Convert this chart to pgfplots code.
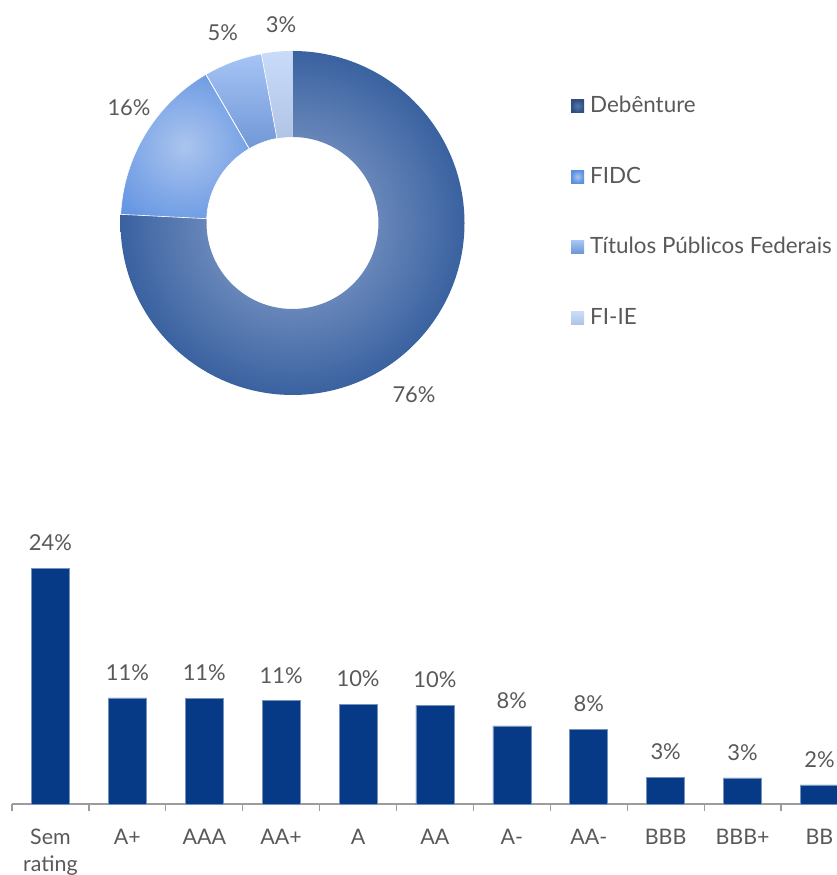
\documentclass[border=0pt]{standalone}
\usepackage{pgfplots}
\pgfplotsset{compat=1.18}
\usepackage{fontspec}
\setmainfont{Lato}
\definecolor{txt}{HTML}{595959}
\definecolor{axgrey}{HTML}{9C9C9C}
\definecolor{barblue}{RGB}{6,58,135}
\definecolor{debdark}{HTML}{3A62A0}
\definecolor{debcenter}{HTML}{94AAD3}
\definecolor{legdebc}{HTML}{5577AE}
\definecolor{fidcdark}{HTML}{5B8FE1}
\definecolor{fidclight}{HTML}{AAC4EE}
\definecolor{titlight}{HTML}{A9C7F7}
\definecolor{titdark}{HTML}{6E95D5}
\definecolor{fiielight}{HTML}{C9DCFA}
\definecolor{fiiedark}{HTML}{B0C3E5}
% slice path: #1 start (percent), #2 value (percent)
\newcommand\slicepath[2]{({90-3.6*(#1)}:172bp) arc[start angle={90-3.6*(#1)}, end angle={90-3.6*((#1)+(#2))}, radius=172bp] -- ({90-3.6*((#1)+(#2))}:86bp) arc[start angle={90-3.6*((#1)+(#2))}, end angle={90-3.6*(#1)}, radius=86bp] -- cycle}
\begin{document}
\begin{tikzpicture}
\useasboundingbox (0,0) rectangle (837bp,875bp);
% ---------------- donut ----------------
\begin{axis}[
  hide axis, x=1bp, y=1bp,
  xmin=-200, xmax=200, ymin=-200, ymax=200,
  anchor=center, at={(292.5bp,652bp)}, clip=false]
\addplot[draw=none] coordinates {(0,0)};
\begin{scope}[shift={(axis cs:0,0)}]
  % Debenture 75.8
  \begin{scope}
    \clip \slicepath{0}{75.8};
    \shade[inner color=debcenter, outer color=debdark] (0bp,0bp) circle (172bp);
  \end{scope}
  % FIDC 15.8
  \begin{scope}
    \clip \slicepath{75.8}{15.8};
    \shade[inner color=fidclight, outer color=fidcdark] (-107.6bp,76.5bp) circle (100bp);
  \end{scope}
  % Titulos Publicos Federais 5.5
  \begin{scope}
    \clip \slicepath{91.6}{5.5};
    \shade[top color=titlight, bottom color=titdark] (-95bp,70bp) rectangle (-10bp,175bp);
  \end{scope}
  % FI-IE 2.9
  \begin{scope}
    \clip \slicepath{97.1}{2.9};
    \shade[top color=fiielight, bottom color=fiiedark] (-40bp,80bp) rectangle (2bp,175bp);
  \end{scope}
  \draw[white, line width=0.6bp] \slicepath{75.8}{15.8};
  \draw[white, line width=0.6bp] \slicepath{91.6}{5.5};
  \begin{scope}[font=\fontsize{22}{26}\selectfont, text=txt]
    \node at (-11.5bp,198bp) {3\%};
    \node at (-69.8bp,190bp) {5\%};
    \node at (-163.5bp,115bp) {16\%};
    \node at (121.5bp,-172bp) {76\%};
  \end{scope}
\end{scope}
\end{axis}
% ---------------- legend ----------------
\begin{scope}[font=\fontsize{22.5}{26}\selectfont, text=txt]
  \shade[inner color=legdebc, outer color=debdark!80!black] (571bp,762.5bp) rectangle (584bp,775.5bp);
  \node[anchor=base west, inner sep=0pt] at (590bp,762bp) {Debênture};
  \shade[inner color=fidclight, outer color=fidcdark] (571bp,691.8bp) rectangle (584bp,704.8bp);
  \node[anchor=base west, inner sep=0pt] at (590bp,691.3bp) {FIDC};
  \shade[top color=titlight, bottom color=titdark] (571bp,621.8bp) rectangle (584bp,634.8bp);
  \node[anchor=base west, inner sep=0pt] at (590bp,621.3bp) {Títulos Públicos Federais};
  \shade[top color=fiielight, bottom color=fiiedark] (571bp,550.5bp) rectangle (584bp,563.5bp);
  \node[anchor=base west, inner sep=0pt] at (590bp,550bp) {FI-IE};
\end{scope}
% ---------------- bars ----------------
\begin{axis}[
  at={(12bp,71bp)}, anchor=south west,
  x=76.9bp, y=9.83bp,
  xmin=-0.5, xmax=10.5, ymin=0, ymax=26,
  axis y line=none, axis x line*=bottom,
  x axis line style={draw=axgrey, line width=1.2bp},
  ybar, bar width=38bp, clip=false,
  xtick={0,...,10},
  xticklabels={{Sem\\rating},A+,AAA,AA+,A,AA,A-,AA-,BBB,BBB+,BB},
  major tick length=0pt,
  minor xtick={-0.5,0.5,...,10.5},
  minor tick length=7.5bp, tick align=outside,
  minor tick style={draw=axgrey, line width=1.2bp},
  xticklabel style={font=\fontsize{21.5}{27}\selectfont, text=txt, align=center, inner sep=0pt, yshift=-25bp, anchor=north},
  nodes near coords, point meta=explicit symbolic,
  nodes near coords style={font=\fontsize{22}{24}\selectfont, text=txt, inner sep=0pt, yshift=17bp, anchor=south},
]
\addplot[fill=barblue, draw=barblue!55!white, line width=0.6bp] coordinates {
  (0,24.0) [24\%]
  (1,10.8) [11\%]
  (2,10.75) [11\%]
  (3,10.5) [11\%]
  (4,10.15) [10\%]
  (5,10.05) [10\%]
  (6,7.95) [8\%]
  (7,7.6) [8\%]
  (8,2.7) [3\%]
  (9,2.65) [3\%]
  (10,1.95) [2\%]
};
\end{axis}
\end{tikzpicture}
\end{document}
